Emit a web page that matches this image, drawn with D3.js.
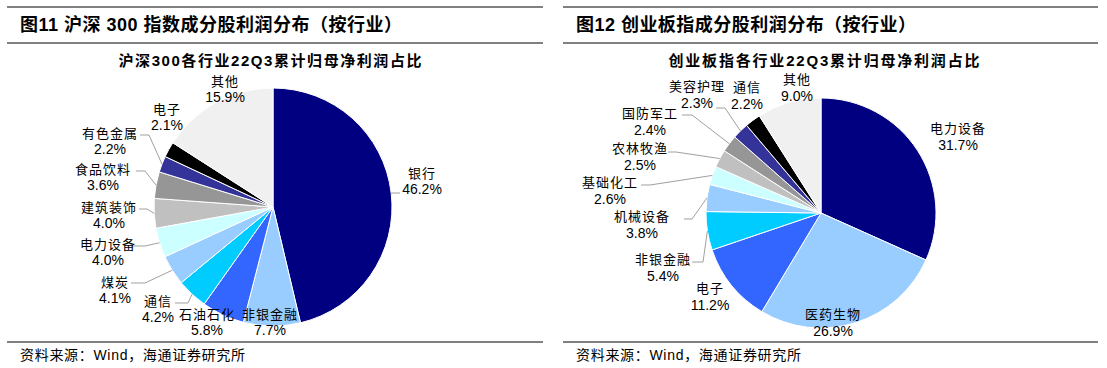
<!DOCTYPE html>
<html><head><meta charset="utf-8">
<script src="https://cdn.jsdelivr.net/npm/d3@7"></script>
<style>body{margin:0;background:#fff}</style>
</head><body>
<svg id="c" width="1107" height="368"></svg>
<script>
// ---------- data ----------
const hs300Categories = ["银行","非银金融","石油石化","通信","煤炭","电力设备","建筑装饰","食品饮料","有色金属","电子","其他"];
const hs300Values = [46.2, 7.7, 5.8, 4.2, 4.1, 4.0, 4.0, 3.6, 2.2, 2.1, 15.9];
const cybCategories = ["电力设备","医药生物","电子","非银金融","机械设备","基础化工","农林牧渔","国防军工","美容护理","通信","其他"];
const cybValues = [31.7, 26.9, 11.2, 5.4, 3.8, 2.6, 2.5, 2.4, 2.3, 2.2, 9.0];

// ---------- styles / layout ----------
const sliceColors = ["#000080","#99CCFF","#3366FF","#00CCFF","#99CCFF","#CCFFFF","#C0C0C0","#969696","#333399","#000000","#F0F0F0"];
const hs300LabelPos = [[149,-35],[-3,106],[-66,106],[-115,93],[-158,74],[-165,36],[-164,-1],[-170,-39],[-163,-75],[-106,-99],[-48,-127]];
const hs300Leaders = [[127,-14,-8],null,null,[-98,96,13],[-142,76,14],[-142,39,14],[-134,2,8],[-137,-36,9],[-133,-72,9],null,null];
const cybLabelPos = [[137,-86],[12,100],[-111,74],[-158,45],[-179,2],[-211,-32],[-181,-66],[-171,-101],[-124,-128],[-74,-127],[-24,-135]];
const cybLeaders = [null,null,null,[-129,49,11],[-137,6,8],[-180,-28,9],[-153,-61,8],[-139,-98,10],[-105,-105,9],null,null];

const svg = d3.select("#c");
const CJK = "'Noto Sans CJK SC','Noto Sans',sans-serif";
const LAT = "'Liberation Sans',Arial,sans-serif";

function panel(x0, x1, title, subtitle, subCx, subW, titleW) {
  const g = svg.append("g");
  [7, 43, 342].forEach(y => {
    g.append("line").attr("x1", x0).attr("x2", x1).attr("y1", y).attr("y2", y)
      .attr("stroke", "#808080").attr("stroke-width", 2);
  });
  g.append("text").attr("x", x0 + 13).attr("y", 25).attr("dominant-baseline", "central")
    .attr("font-family", LAT + "," + CJK).attr("font-weight", "bold").attr("font-size", 18)
    .attr("textLength", titleW).attr("lengthAdjust", "spacing")
    .attr("fill", "#000").text(title);
  g.append("text").attr("x", subCx).attr("y", 60).attr("dominant-baseline", "central")
    .attr("text-anchor", "middle")
    .attr("font-family", LAT + "," + CJK).attr("font-weight", "bold").attr("font-size", 15)
    .attr("textLength", subW).attr("lengthAdjust", "spacing")
    .attr("fill", "#000").text(subtitle);
  g.append("text").attr("x", x0 + 13).attr("y", 355).attr("dominant-baseline", "central")
    .attr("font-family", LAT + "," + CJK).attr("font-size", 14)
    .attr("textLength", 225).attr("lengthAdjust", "spacing")
    .attr("fill", "#000").text("资料来源：Wind，海通证券研究所");
}

function pieChart(cx, cy, r, cats, vals, labelPos, leaders, pctGap) {
  const g = svg.append("g").attr("transform", `translate(${cx},${cy})`);
  const pie = d3.pie().sort(null).value(d => d)(vals);
  const arc = d3.arc().innerRadius(0).outerRadius(r);
  const edge = d3.arc().innerRadius(r).outerRadius(r);
  g.selectAll("path.slice").data(pie).join("path").attr("class", "slice")
    .attr("d", arc).attr("fill", (d, i) => sliceColors[i])
    .attr("stroke", "#fff").attr("stroke-width", 1);
  pie.forEach((d, i) => {
    const ld = leaders[i];
    if (ld) {
      const p = edge.centroid(d);
      const pts = [[ld[0], ld[1]], [ld[0] + ld[2], ld[1]], p];
      g.append("path").attr("d", d3.line()(pts)).attr("fill", "none")
        .attr("stroke", "#A0A0A0").attr("stroke-width", 1);
    }
    const [lx, ly] = labelPos[i];
    g.append("text").attr("x", lx).attr("y", ly).attr("text-anchor", "middle")
      .attr("dominant-baseline", "central").attr("font-family", CJK)
      .attr("font-size", 13).attr("letter-spacing", 1).attr("fill", "#000").text(cats[i]);
    g.append("text").attr("x", lx).attr("y", ly + pctGap).attr("text-anchor", "middle")
      .attr("dominant-baseline", "central").attr("font-family", LAT)
      .attr("font-size", 14).attr("fill", "#000").text(d3.format(".1f")(vals[i]) + "%");
  });
}

panel(7, 543, "图11 沪深 300 指数成分股利润分布（按行业）", "沪深300各行业22Q3累计归母净利润占比", 270, 303, 382);
panel(563, 1098, "图12 创业板指成分股利润分布（按行业）", "创业板指各行业22Q3累计归母净利润占比", 824, 311, 340);
pieChart(273, 207, 119, hs300Categories, hs300Values, hs300LabelPos, hs300Leaders, 17);
pieChart(821, 213, 115, cybCategories, cybValues, cybLabelPos, cybLeaders, 18);
</script>
</body></html>
